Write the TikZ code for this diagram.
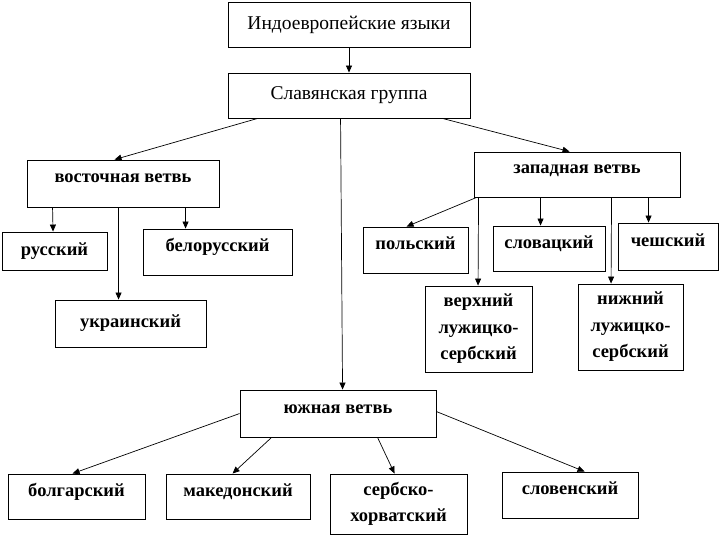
\documentclass[tikz,border=0pt]{standalone}
\usepackage{fontspec}
\setmainfont{Liberation Serif}
\usetikzlibrary{arrows.meta,calc}
\tikzset{
  box/.style={draw, rectangle, line width=0.9pt, inner sep=0pt, align=center, font=\bfseries\fontsize{18.5}{26.5}\selectfont},
  up/.style={text height=10pt, text depth=11pt},
  bigbox/.style={draw, rectangle, line width=0.9pt, inner sep=0pt, align=center, font=\fontsize{19.5}{24}\selectfont},
  arr/.style={line width=0.7pt, -{Triangle[length=7pt,width=6pt]}}
}
\begin{document}
\begin{tikzpicture}[x=1pt,y=-1pt]
\useasboundingbox (0,0) rectangle (720,540);
\fill[white] (0,0) rectangle (720,540);
\node[bigbox, minimum width=242, minimum height=45] (indo) at (349,24.5) {Индоевропейские языки};
\node[bigbox, minimum width=242, minimum height=45] (slav) at (349,95.5) {Славянская группа};
\node[box, up, minimum width=192, minimum height=47] (vost) at (123,183.5) {восточная ветвь};
\node[box, minimum width=105, minimum height=38] (rus) at (54.5,251) {русский};
\node[box, up, minimum width=149, minimum height=46] (belo) at (217.5,252) {белорусский};
\node[box, minimum width=151, minimum height=47] (ukr) at (130.5,323.5) {украинский};
\node[box, up, minimum width=206, minimum height=45] (zap) at (577,174.5) {западная ветвь};
\node[box, up, minimum width=105, minimum height=46] (pol) at (415.5,250) {польский};
\node[box, up, minimum width=112, minimum height=45] (slovak) at (549,248.5) {словацкий};
\node[box, up, minimum width=100, minimum height=47] (chesh) at (668,246.5) {чешский};
\node[box, minimum width=107, minimum height=86] (verkh) at (478.5,329) {верхний\\лужицко-\\сербский};
\node[box, minimum width=105, minimum height=86] (nizh) at (630.5,327) {нижний\\лужицко-\\сербский};
\node[box, up, minimum width=196, minimum height=47] (yuzh) at (338,413.5) {южная ветвь};
\node[box, up, minimum width=137, minimum height=45] (bolg) at (76.5,496.5) {болгарский};
\node[box, up, minimum width=144, minimum height=45] (maked) at (238,496.5) {македонский};
\node[box, minimum width=137, minimum height=60] (serbo) at (398.5,504) {сербско-\\хорватский};
\node[box, up, minimum width=136, minimum height=46] (sloven) at (570,495) {словенский};

\draw[arr] (indo.south) -- (slav.north);
\draw[arr] ($(slav.south west)+(30,0)$) -- ($(vost.north west)+(88,0)$);
\draw[arr] ($(slav.south west)+(215,0)$) -- ($(zap.north west)+(96,0)$);
\draw[arr] ($(slav.south west)+(113,0)$) -- ($(yuzh.north west)+(103,0)$);
\draw[arr] ($(vost.south west)+(26,0)$) -- ($(rus.north west)+(51.5,0)$);
\draw[arr] ($(vost.south west)+(92,0)$) -- ($(ukr.north west)+(64,0)$);
\draw[arr] ($(vost.south west)+(159,0)$) -- ($(belo.north west)+(43,0)$);
\draw[arr] ($(zap.south west)+(3,0)$) -- ($(pol.north west)+(44,0)$);
\draw[arr] ($(zap.south west)+(5,0)$) -- ($(verkh.north west)+(53.5,0)$);
\draw[arr] ($(zap.south west)+(67,0)$) -- ($(slovak.north west)+(48,0)$);
\draw[arr] ($(zap.south west)+(138,0)$) -- ($(nizh.north west)+(33.5,0)$);
\draw[arr] ($(zap.south west)+(175,0)$) -- ($(chesh.north west)+(31,0)$);
\draw[arr] ($(yuzh.north west)+(0,24)$) -- ($(bolg.north west)+(65,0)$);
\draw[arr] ($(yuzh.south west)+(32,0)$) -- ($(maked.north west)+(67,0)$);
\draw[arr] ($(yuzh.south west)+(138,0)$) -- ($(serbo.north west)+(65,0)$);
\draw[arr] ($(yuzh.north east)+(0,22)$) -- ($(sloven.north west)+(83,0)$);
\end{tikzpicture}
\end{document}
